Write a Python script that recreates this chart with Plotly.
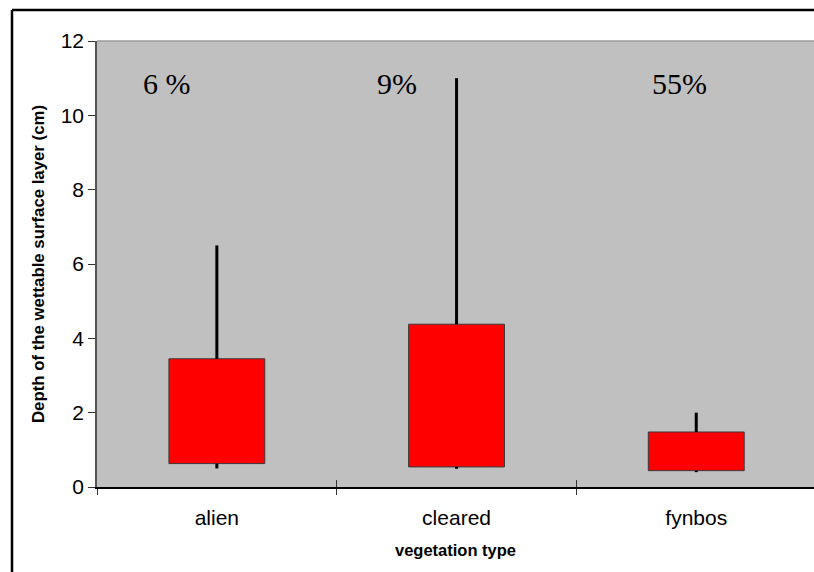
import plotly.graph_objects as go

# Vegetation types and the summary statistics of the wettable layer depth (cm)
categories = ["alien", "cleared", "fynbos"]
q1 = [0.63, 0.54, 0.44]
q3 = [3.45, 4.38, 1.48]
whisker_low = [0.50, 0.49, 0.40]
whisker_high = [6.5, 11.0, 2.0]
percent_labels = ["6 %", "9%", "55%"]
label_shift = [-0.21, -0.25, -0.07]
y_ticks = [0, 2, 4, 6, 8, 10, 12]

W, H = 814, 572
ML, MT, MB, MR = 97, 41, 85, 0
plot_w = W - ML - MR
plot_h = H - MT - MB
cat_px = 239.7
x_range = [-0.5, -0.5 + plot_w / cat_px]

fig = go.Figure()

# Boxes: bars spanning q1..q3
fig.add_trace(go.Bar(
    x=categories,
    y=[b - a for a, b in zip(q1, q3)],
    base=q1,
    width=0.4,
    marker=dict(color="#ff0000", line=dict(color="#3a3a3a", width=1)),
    hoverinfo="skip",
    showlegend=False,
))

# Whiskers above and below each box
wx, wy = [], []
for c, lo, a, b, hi in zip(categories, whisker_low, q1, q3, whisker_high):
    wx += [c, c, None, c, c, None]
    wy += [b, hi, None, lo, a, None]
fig.add_trace(go.Scatter(
    x=wx, y=wy, mode="lines",
    line=dict(color="black", width=3),
    hoverinfo="skip", showlegend=False,
))

# Overlay axis that carries the upward half of the category boundary ticks
fig.add_trace(go.Scatter(
    x=[], y=[], xaxis="x2", yaxis="y",
    hoverinfo="skip", showlegend=False,
))

for c, t, dx in zip(categories, percent_labels, label_shift):
    fig.add_annotation(
        x=categories.index(c) + dx, y=10.85, xref="x", yref="y",
        text=t, showarrow=False,
        font=dict(family="Liberation Serif, Times New Roman, serif", size=30, color="black"),
    )

# Outer frame around the chart: left and top edges only
fx0 = (12 - ML) / plot_w
fy1 = (H - MB - 10) / plot_h
fig.add_shape(
    type="line", xref="paper", yref="paper",
    x0=fx0, x1=fx0, y0=-0.5, y1=fy1,
    line=dict(color="black", width=2.5), layer="above",
)
fig.add_shape(
    type="line", xref="paper", yref="paper",
    x0=fx0, x1=1.0, y0=fy1, y1=fy1,
    line=dict(color="black", width=2.5), layer="above",
)
# Top edge of the plot area
fig.add_shape(
    type="line", xref="paper", yref="paper",
    x0=0, x1=1, y0=1, y1=1,
    line=dict(color="#9a9a9a", width=1.5),
)

fig.update_layout(
    width=W, height=H,
    margin=dict(l=ML, r=MR, t=MT, b=MB, pad=0),
    paper_bgcolor="white",
    plot_bgcolor="#c0c0c0",
    font=dict(family="Liberation Sans, Arial, sans-serif", color="black"),
    bargap=0.6,
    xaxis=dict(
        type="category",
        categoryorder="array", categoryarray=categories,
        range=x_range,
        tickson="boundaries",
        ticks="outside", ticklen=6, tickwidth=1, tickcolor="#333",
        ticklabelstandoff=11,
        showline=True, linecolor="black", linewidth=2,
        showgrid=False, zeroline=False,
        tickfont=dict(size=21),
        title=dict(text="<b>vegetation type</b>", font=dict(size=16.5), standoff=16),
    ),
    xaxis2=dict(
        overlaying="x", anchor="y",
        range=x_range,
        tickmode="array", tickvals=[0.5, 1.5],
        ticks="inside", ticklen=7, tickwidth=1, tickcolor="#333",
        showticklabels=False, showgrid=False, zeroline=False, showline=False,
    ),
    yaxis=dict(
        range=[0, 12],
        tickmode="array", tickvals=y_ticks,
        ticks="outside", ticklen=7, tickwidth=1, tickcolor="#333",
        showline=True, linecolor="#555", linewidth=1.5,
        showgrid=False, zeroline=False,
        tickfont=dict(size=21),
        title=dict(text="<b>Depth of the wettable surface layer (cm)</b>",
                   font=dict(size=16.8), standoff=12),
    ),
)

fig.write_html("out.html")
